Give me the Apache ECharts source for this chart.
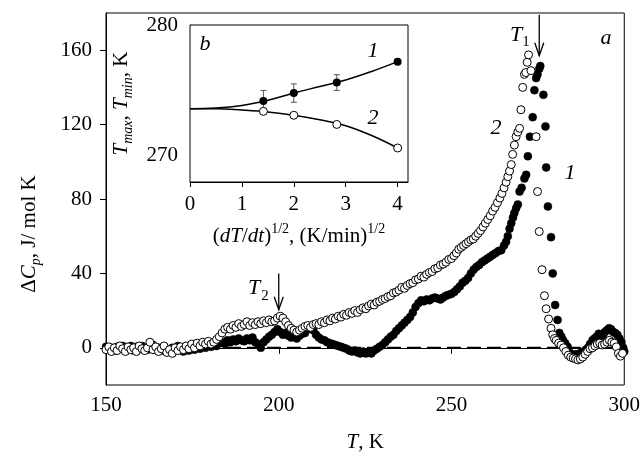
<!DOCTYPE html>
<html><head><meta charset="utf-8">
<script src="https://cdn.jsdelivr.net/npm/echarts@6/dist/echarts.min.js"></script>
<style>html,body{margin:0;padding:0;background:#fff}#c{width:643px;height:466px}</style>
</head><body><div id="c"></div>
<script>
// ---- main panel (a) ----
const mainXTicks = [150, 200, 250, 300];
const mainYTicks = [0, 40, 80, 120, 160];
// curve 1 (filled circles): [T, dCp]
const series1 = [[150,0.5],[150.8,-1],[151.6,0],[152.4,-1.5],[153.2,0.5],[154,-0.5],[154.8,1],[155.6,-1],[156.4,0],[157.2,1],[158,-1.5],[158.8,0.5],[159.6,-0.5],[160.4,1],[161.2,0],[162,-1],[162.8,0.5],[163.6,1.5],[164.4,-0.5],[165.2,0],[166,-1.5],[166.8,0.5],[167.6,-1],[168.4,-2],[169.2,0],[170,-1],[170.8,1],[171.6,-0.5],[172.4,-2],[173.2,0],[174,-1.5],[174.8,0.5],[175.6,-1],[176.4,0.5],[177.2,-0.5],[178,1],[178.8,0],[179.6,1.5],[180.4,0.5],[181.2,2],[182,1],[182.8,2.5],[183.6,3],[184.4,2],[185.2,4],[186,3],[186.8,4.5],[187.6,3.5],[188.4,5],[189.2,4],[190,3.5],[190.8,5],[191.6,4],[192.4,5.5],[193.2,3],[194,2],[194.8,0],[195.6,3],[196.4,4.5],[197.2,6],[198,7],[198.8,8.5],[199.6,10],[200.4,8.5],[201.2,7],[202,8],[202.8,6.5],[203.6,5.5],[204.4,6],[205.2,5],[206,6.5],[206.8,7.5],[207.6,8],[208.4,10],[209.2,11],[210,9.5],[210.8,7],[211.6,5.5],[212.4,4.5],[213.2,4],[214,3],[214.8,2.5],[215.6,2],[216.4,1.5],[217.2,1],[218,0.5],[218.8,0],[219.6,-0.5],[220.4,-1.5],[221.2,-2],[222,-1.5],[222.8,-2.5],[223.6,-3],[224.4,-2],[225.2,-3],[226,-2.5],[226.8,-3],[227.6,-1.5],[228.4,-0.5],[229.2,0.5],[230,1.5],[230.8,3],[231.6,4.5],[232.4,6],[233.2,7],[234,9],[234.8,10.5],[235.6,12],[236.4,13.5],[237.2,15],[238,16.5],[238.8,19],[239.6,22],[240.4,24],[241.2,25.5],[242,25],[242.8,26],[243.6,25.5],[244.4,26.5],[245.2,27],[246,26.5],[246.8,26],[247.6,27],[248.4,28],[249.2,28.5],[250,29],[250.8,30],[251.6,31.5],[252.4,33],[253.2,35],[254,36],[254.8,37.5],[255.6,40],[256.4,42],[257.2,43.5],[258,44.5],[258.8,46],[259.6,47],[260.4,48],[261.2,49],[262,50],[262.8,51],[263.6,52],[264.4,52.5],[265.2,55],[265.8,57],[266.3,60],[266.8,64],[267.3,67],[267.8,70],[268.2,72.5],[268.7,75],[269.2,77],[269.7,84],[270.3,86],[271.1,91],[271.6,93],[272.1,103],[272.7,113.5],[273.5,124],[274,138.5],[274.5,145],[274.9,147],[275.4,150],[275.7,151.5],[276.6,136],[277.2,119],[277.4,97],[277.9,76],[278.8,59.5],[279.3,40],[280,23],[280.7,15],[281.2,8],[281.8,6],[282.3,4],[282.9,2.5],[283.6,0.5],[284.2,-2.5],[284.7,-4],[285.3,-4.5],[285.9,-3.5],[286.5,-4],[287.1,-3],[287.7,-2.5],[288.3,-2],[288.9,-1],[289.5,0],[290.1,2],[290.8,4],[291.4,5],[292,6],[292.6,7.5],[293.2,7],[293.8,6.5],[294.4,8.5],[295,9.5],[295.6,10.5],[296.2,10],[296.8,8.5],[297.4,8],[298,7],[298.6,5],[299.2,3],[299.7,0],[300,-2]];
// curve 2 (open circles): [T, dCp]
const series2 = [[150,-1],[150.8,0.5],[151.6,-2],[152.4,0],[153.2,-1.5],[154,1],[154.8,-0.5],[155.6,-2],[156.4,0.5],[157.2,-1],[158,0],[158.8,-2],[159.6,1],[160.4,-0.5],[161.2,-1.5],[162,0],[162.7,3],[163.6,-1],[164.4,0.5],[165.2,-2],[166,-0.5],[166.8,1],[167.6,-2.5],[168.4,-1],[169.2,-3],[170,0],[170.8,-1.5],[171.6,0.5],[172.4,-1],[173.2,1],[174,-0.5],[174.8,2],[175.6,0],[176.4,2.5],[177.2,1],[178,3],[178.8,2],[179.6,3.5],[180.4,2],[181.2,3],[182,4.5],[182.8,6],[183.6,8],[184.4,10],[185.2,11],[186,10],[186.8,12],[187.6,11],[188.4,13],[189.2,11.5],[190,12.5],[190.8,14],[191.6,12],[192.4,13.5],[193.2,12.5],[194,14],[194.8,13],[195.6,14.5],[196.4,13.5],[197.2,15],[198,14],[198.8,14.5],[199.6,16],[200.4,17],[201.2,16],[202,14],[202.8,12],[203.6,10.5],[204.4,9.5],[205.2,8.5],[206,9.5],[206.8,10.5],[207.6,11.5],[208.4,12],[209.2,11],[210,12.5],[210.8,13],[211.6,12.5],[212.4,14],[213.2,13.5],[214,15],[214.8,14.5],[215.6,16],[216.4,15.5],[217.2,17],[218,16.5],[218.8,18],[219.6,17.5],[220.4,19],[221.2,18.5],[222,20],[222.8,19],[223.6,20.5],[224.4,21.5],[225.2,21],[226,22.5],[226.8,23.5],[227.6,23],[228.4,24.5],[229.2,25],[230,26],[230.8,26.5],[231.6,27.5],[232.4,28],[233.2,29.5],[234,30],[234.8,31],[235.6,32.5],[236.4,32],[237.2,33.5],[238,34.5],[238.8,35],[239.6,36.5],[240.4,37],[241.2,38.5],[242,38],[242.8,39.5],[243.6,40.5],[244.4,41],[245.2,42.5],[246,43],[246.8,44.5],[247.6,45],[248.4,46],[249.2,47.5],[250,48],[250.7,49.5],[251.4,51],[252.1,53],[252.8,54],[253.5,55],[254.2,56],[254.9,57],[255.6,58],[256.3,58.5],[257,60],[257.7,61.5],[258.4,63],[259.1,65],[259.8,67],[260.5,69],[261.2,71],[261.9,73.5],[262.6,75.5],[263.3,78],[264,80.5],[264.6,83],[265.2,86],[265.8,89],[266.3,92],[266.8,95],[267.3,98.5],[267.7,104],[268.2,109],[268.7,113.5],[269.2,116],[269.7,118],[270.1,128],[270.6,140],[271.1,147],[271.5,148],[271.9,153.5],[272.3,157.5],[273,149],[274.5,113.5],[274.9,84],[275.4,62.5],[276.2,42],[276.9,28],[277.4,21],[278.1,15.5],[278.8,10.5],[279.3,7],[279.8,5],[280.3,4],[281,2.5],[281.7,1.5],[282.4,0],[283.1,-2],[283.8,-4],[284.5,-5],[285.2,-5.5],[285.9,-6],[286.6,-6.5],[287.3,-6],[288,-5],[288.7,-3.5],[289.4,-2],[290.1,-0.5],[290.8,0],[291.5,1],[292.2,2],[292.9,2.5],[293.6,1.5],[294.3,2],[295,3],[295.7,4],[296.4,3],[297.1,2.5],[297.7,0.5],[298.3,-3],[298.9,-4.5],[299.5,-3]];
const zeroLine = [[185, 0], [300, 0]];
// arrows: [T, from dCp, to dCp]
const arrows = [[275.4, 179, 157], [200, 40, 20.5]];

// ---- inset (b) ----
const insetXTicks = [0, 1, 2, 3, 4];
const insetYTicks = [270, 280];
const insetRate = [1.414, 2, 2.828, 4];
const insetTmax = [274.2, 274.8, 275.6, 277.2];
const insetTmaxErr = [0.8, 0.7, 0.6, 0];
const insetTmin = [273.4, 273.1, 272.4, 270.6];
const fitX = [0, 0.5, 1, 1.5, 2, 2.5, 3, 3.5, 4];
const fitTmax = [273.6, 273.65, 273.85, 274.25, 274.8, 275.3, 275.8, 276.45, 277.2];
const fitTmin = [273.6, 273.6, 273.5, 273.35, 273.1, 272.75, 272.3, 271.55, 270.6];

const F = 'Liberation Serif';
const R = {
  a: {fontFamily: F, fontSize: 21, color: '#000', lineHeight: 28, verticalAlign: 'middle'},
  i: {fontFamily: F, fontSize: 21, fontStyle: 'italic', color: '#000', lineHeight: 28, verticalAlign: 'middle'},
  s: {fontFamily: F, fontSize: 14, fontStyle: 'italic', color: '#000', lineHeight: 14, verticalAlign: 'bottom'},
  sup: {fontFamily: F, fontSize: 14, color: '#000', lineHeight: 14, verticalAlign: 'top'}
};
const lbl = {fontFamily: F, fontSize: 21, color: '#000'};
const blk = {color: '#000', width: 1};

function errItem(params, api) {
  const x = api.value(0), y = api.value(1), e = api.value(2);
  if (!e) return null;
  const hi = api.coord([x, y + e]), lo = api.coord([x, y - e]);
  const w = 3, st = {stroke: '#555', lineWidth: 1};
  return {type: 'group', children: [
    {type: 'line', shape: {x1: hi[0], y1: hi[1], x2: lo[0], y2: lo[1]}, style: st},
    {type: 'line', shape: {x1: hi[0] - w, y1: hi[1], x2: hi[0] + w, y2: hi[1]}, style: st},
    {type: 'line', shape: {x1: lo[0] - w, y1: lo[1], x2: lo[0] + w, y2: lo[1]}, style: st}
  ]};
}
function arrowItem(params, api) {
  const x = api.value(0);
  const a = api.coord([x, api.value(1)]), b = api.coord([x, api.value(2)]);
  const st = {stroke: '#000', lineWidth: 1.3, fill: null};
  return {type: 'group', children: [
    {type: 'line', shape: {x1: a[0], y1: a[1], x2: b[0], y2: b[1]}, style: st},
    {type: 'polyline', shape: {points: [[b[0] - 4.5, b[1] - 13], [b[0], b[1]], [b[0] + 4.5, b[1] - 13]]}, style: st}
  ]};
}
function txt(s, x, y, size, italic) {
  return {type: 'text', x: x, y: y, z: 100, style: {text: s, fill: '#000', fontFamily: F, fontSize: size, fontStyle: italic ? 'italic' : 'normal', align: 'center', verticalAlign: 'middle'}};
}

const chart = echarts.init(document.getElementById('c'), null, {renderer: 'canvas'});
chart.setOption({
  animation: false,
  backgroundColor: '#fff',
  grid: [
    {left: 106, top: 13, width: 519, height: 372, show: true, borderColor: '#000', borderWidth: 1, backgroundColor: 'rgba(0,0,0,0)'},
    {left: 190, top: 25, width: 218, height: 157, show: true, borderColor: '#000', borderWidth: 1, backgroundColor: '#fff', z: 5}
  ],
  xAxis: [
    {gridIndex: 0, type: 'value', min: 150, max: 300, interval: 50,
     axisLine: {lineStyle: blk}, axisTick: {length: 6, lineStyle: blk}, splitLine: {show: false},
     axisLabel: Object.assign({margin: 10}, lbl),
     name: '{i|T}{a|, K}', nameLocation: 'middle', nameGap: 43, nameTextStyle: {rich: R}},
    {gridIndex: 1, type: 'value', min: 0, max: 4.2,
     axisLine: {lineStyle: blk}, axisTick: {length: 5, lineStyle: blk, customValues: insetXTicks}, splitLine: {show: false},
     axisLabel: Object.assign({margin: 12, customValues: insetXTicks}, lbl),
     name: '{a|(}{i|dT}{a|/}{i|dt}{a|)}{sup|1/2}{a|, (K/min)}{sup|1/2}', nameLocation: 'middle', nameGap: 40, nameTextStyle: {rich: R}}
  ],
  yAxis: [
    {gridIndex: 0, type: 'value', min: -20, max: 180,
     axisLine: {show: true, lineStyle: blk}, axisTick: {show: true, length: 6, lineStyle: blk, customValues: mainYTicks}, splitLine: {show: false},
     axisLabel: Object.assign({margin: 14, customValues: mainYTicks}, lbl)},
    {gridIndex: 1, type: 'value', min: 268, max: 280,
     axisLine: {show: true, lineStyle: blk}, axisTick: {show: false}, splitLine: {show: false},
     axisLabel: Object.assign({margin: 12, customValues: insetYTicks}, lbl),
     name: '{i|T}{s|max}{a|, }{i|T}{s|min}{a|, K}', nameLocation: 'middle', nameRotate: 90, nameGap: 55, nameTextStyle: {rich: R}}
  ],
  series: [
    {type: 'line', xAxisIndex: 0, yAxisIndex: 0, data: zeroLine, symbol: 'none', z: 1,
     lineStyle: {color: '#000', width: 2, type: [14, 6]}},
    {type: 'scatter', xAxisIndex: 0, yAxisIndex: 0, data: series1, symbolSize: 8, z: 2,
     itemStyle: {color: '#000', borderColor: '#000', borderWidth: 0.5, opacity: 1}},
    {type: 'scatter', xAxisIndex: 0, yAxisIndex: 0, data: series2, symbolSize: 8, z: 3,
     itemStyle: {color: '#fff', borderColor: '#000', borderWidth: 1, opacity: 1}},
    {type: 'custom', xAxisIndex: 0, yAxisIndex: 0, data: arrows, renderItem: arrowItem, encode: {x: 0, y: [1, 2]}, z: 4, clip: false},
    {type: 'line', xAxisIndex: 1, yAxisIndex: 1, data: fitX.map((x, i) => [x, fitTmax[i]]), smooth: 0.4, symbol: 'none', z: 10,
     lineStyle: {color: '#000', width: 1.5}},
    {type: 'line', xAxisIndex: 1, yAxisIndex: 1, data: fitX.map((x, i) => [x, fitTmin[i]]), smooth: 0.4, symbol: 'none', z: 10,
     lineStyle: {color: '#000', width: 1.5}},
    {type: 'custom', xAxisIndex: 1, yAxisIndex: 1, data: insetRate.map((x, i) => [x, insetTmax[i], insetTmaxErr[i]]), renderItem: errItem, encode: {x: 0, y: 1}, z: 11},
    {type: 'scatter', xAxisIndex: 1, yAxisIndex: 1, data: insetRate.map((x, i) => [x, insetTmax[i]]), symbolSize: 8, z: 12,
     itemStyle: {color: '#000', opacity: 1}},
    {type: 'scatter', xAxisIndex: 1, yAxisIndex: 1, data: insetRate.map((x, i) => [x, insetTmin[i]]), symbolSize: 8, z: 12,
     itemStyle: {color: '#fff', borderColor: '#000', borderWidth: 1, opacity: 1}}
  ],
  graphic: [
    {type: 'text', x: 29, y: 234, rotation: Math.PI / 2, z: 100,
     style: {text: '{a|Δ}{i|C}{s|p}{a|, J/ mol K}', rich: R, align: 'center', verticalAlign: 'middle'}},
    txt('a', 606, 38, 22, true),
    txt('T', 516, 35, 22, true), txt('1', 526, 42, 15, false),
    txt('T', 254, 288, 22, true), txt('2', 265, 296, 15, false),
    txt('2', 496, 128, 22, true), txt('1', 570, 173, 22, true),
    txt('b', 205, 44, 22, true), txt('1', 373, 51, 22, true), txt('2', 373, 118, 22, true)
  ]
});
</script></body></html>
